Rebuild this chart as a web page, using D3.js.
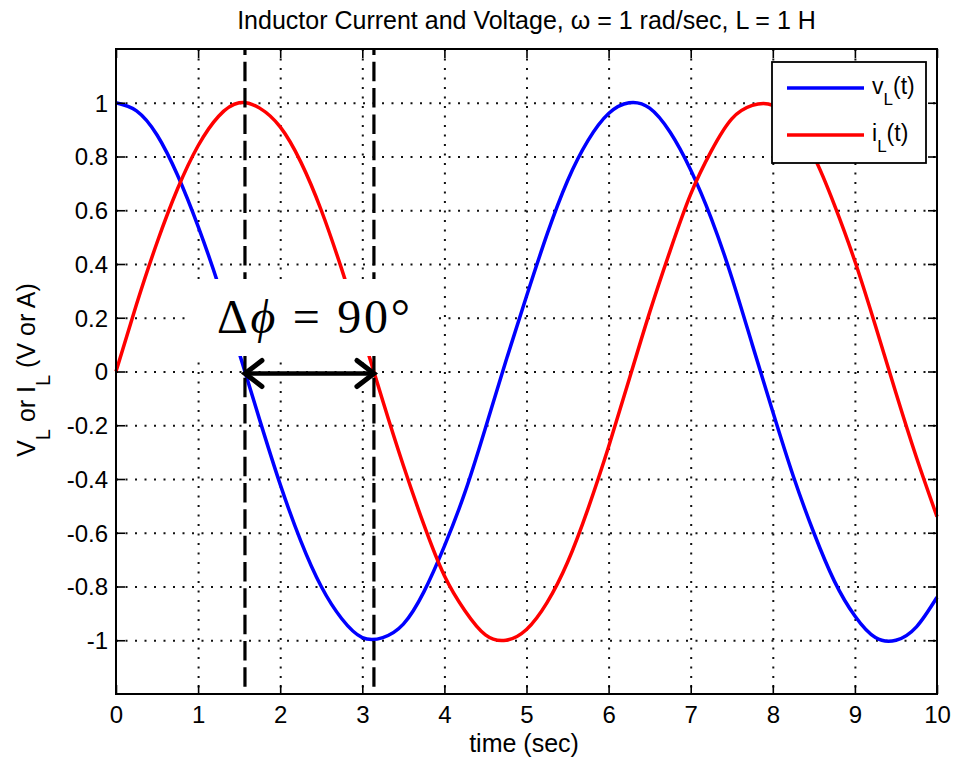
<!DOCTYPE html>
<html>
<head>
<meta charset="utf-8">
<script src="https://cdn.jsdelivr.net/npm/d3@7"></script>
<style>
  html, body { margin: 0; padding: 0; background: #fff; }
  svg { display: block; }
  text { font-family: "Liberation Sans", Arial, sans-serif; fill: #000; }
</style>
</head>
<body>
<svg id="chart" width="953" height="761"></svg>
<script>
// time samples (sec) and the two traces
var timeSec = [0, 0.25, 0.5, 0.75, 1, 1.25, 1.5, 1.75, 2, 2.25, 2.5, 2.75, 3, 3.25, 3.5, 3.75,
  4, 4.25, 4.5, 4.75, 5, 5.25, 5.5, 5.75, 6, 6.25, 6.5, 6.75, 7, 7.25, 7.5, 7.75,
  8, 8.25, 8.5, 8.75, 9, 9.25, 9.5, 9.75, 10];
var voltage = [1.00, 0.97, 0.88, 0.73, 0.54, 0.32, 0.07, -0.18, -0.42, -0.63, -0.80, -0.92, -0.99, -0.99, -0.94, -0.82,
  -0.65, -0.45, -0.21, 0.04, 0.28, 0.51, 0.71, 0.86, 0.96, 1.00, 0.98, 0.89, 0.75, 0.57, 0.35, 0.10,
  -0.15, -0.39, -0.60, -0.78, -0.91, -0.99, -1.00, -0.95, -0.84];
var current = [0.00, 0.25, 0.48, 0.68, 0.84, 0.95, 1.00, 0.98, 0.91, 0.78, 0.60, 0.38, 0.14, -0.11, -0.35, -0.57,
  -0.76, -0.89, -0.98, -1.00, -0.96, -0.86, -0.71, -0.51, -0.28, -0.03, 0.22, 0.45, 0.66, 0.82, 0.94, 0.99,
  0.99, 0.92, 0.80, 0.62, 0.41, 0.17, -0.08, -0.32, -0.54];

var xTicks = [0, 1, 2, 3, 4, 5, 6, 7, 8, 9, 10];
var xTickLabels = ["0", "1", "2", "3", "4", "5", "6", "7", "8", "9", "10"];
var yTicks = [-1, -0.8, -0.6, -0.4, -0.2, 0, 0.2, 0.4, 0.6, 0.8, 1];
var yTickLabels = ["-1", "-0.8", "-0.6", "-0.4", "-0.2", "0", "0.2", "0.4", "0.6", "0.8", "1"];

// the two dashed markers (zero crossings) and the phase label
var markTimes = [1.5708, 3.1416];
var phaseText = ["\u0394", "\u03D5", " = 90\u00B0"];

var margin = {top: 49, right: 16, bottom: 67, left: 116};
var W = 953, H = 761;
var w = W - margin.left - margin.right;
var h = H - margin.top - margin.bottom;

var svg = d3.select("#chart");
var g = svg.append("g").attr("transform", "translate(" + margin.left + "," + margin.top + ")");

var x = d3.scaleLinear().domain([0, 10]).range([0, w]);
var y = d3.scaleLinear().domain([-1.2, 1.2]).range([h, 0]);

// dotted grid
var gridX = g.append("g").attr("class", "grid")
  .call(d3.axisBottom(x).tickValues(xTicks.slice(1, -1)).tickSize(h).tickFormat(""));
var gridY = g.append("g").attr("class", "grid")
  .call(d3.axisLeft(y).tickValues(yTicks).tickSize(-w).tickFormat(""));
g.selectAll(".grid .domain").remove();
g.selectAll(".grid line")
  .attr("stroke", "#111").attr("stroke-width", 2)
  .attr("stroke-dasharray", "2,7.5");

// traces
var line = d3.line()
  .x(function(d) { return x(d[0]); })
  .y(function(d) { return y(d[1]); })
  .curve(d3.curveNatural);

g.append("path")
  .datum(timeSec.map(function(t, i) { return [t, voltage[i]]; }))
  .attr("d", line).attr("fill", "none")
  .attr("stroke", "#0000ff").attr("stroke-width", 3.5);
g.append("path")
  .datum(timeSec.map(function(t, i) { return [t, current[i]]; }))
  .attr("d", line).attr("fill", "none")
  .attr("stroke", "#ff0000").attr("stroke-width", 3.5);

// dashed markers
g.selectAll(".mark").data(markTimes).enter().append("line")
  .attr("class", "mark")
  .attr("x1", function(d) { return x(d); }).attr("x2", function(d) { return x(d); })
  .attr("y1", y(1.2)).attr("y2", y(-1.2))
  .attr("stroke", "#000").attr("stroke-width", 3.2)
  .attr("stroke-dasharray", "19.5,6.83").attr("stroke-dashoffset", 13.6);

// phase label on a white box
svg.append("rect")
  .attr("x", 190).attr("y", 279).attr("width", 247).attr("height", 77)
  .attr("fill", "#fff");
var ph = svg.append("text")
  .attr("x", 217).attr("y", 333)
  .attr("textLength", 193).attr("lengthAdjust", "spacing")
  .style("font-family", "'Liberation Serif', 'DejaVu Serif', serif")
  .style("font-size", "48px");
ph.append("tspan").text(phaseText[0]);
ph.append("tspan").style("font-style", "italic").text(phaseText[1]);
ph.append("tspan").text(phaseText[2]);

// double arrow between the markers
var ax0 = x(markTimes[0]), ax1 = x(markTimes[1]), ay = y(0) + 2;
g.append("line")
  .attr("x1", ax0 + 2).attr("x2", ax1 - 2).attr("y1", ay).attr("y2", ay)
  .attr("stroke", "#000").attr("stroke-width", 4.5);
g.append("path")
  .attr("d", "M" + (ax0 + 17) + "," + (ay - 13) + "L" + ax0 + "," + ay + "L" + (ax0 + 17) + "," + (ay + 13))
  .attr("fill", "none").attr("stroke", "#000").attr("stroke-width", 5)
  .attr("stroke-linecap", "round");
g.append("path")
  .attr("d", "M" + (ax1 - 17) + "," + (ay - 13) + "L" + ax1 + "," + ay + "L" + (ax1 - 17) + "," + (ay + 13))
  .attr("fill", "none").attr("stroke", "#000").attr("stroke-width", 5)
  .attr("stroke-linecap", "round");

// axes with inward ticks on all four sides
var xb = g.append("g").attr("transform", "translate(0," + h + ")")
  .call(d3.axisBottom(x).tickValues(xTicks).tickSizeInner(-9).tickSizeOuter(0)
    .tickFormat(function(d, i) { return xTickLabels[i]; }));
xb.selectAll("text").attr("y", 29).attr("dy", null).style("font-size", "24px");
var xt = g.append("g")
  .call(d3.axisTop(x).tickValues(xTicks).tickSizeInner(-9).tickSizeOuter(0).tickFormat(""));
var yl = g.append("g")
  .call(d3.axisLeft(y).tickValues(yTicks).tickSizeInner(-9).tickSizeOuter(0)
    .tickFormat(function(d, i) { return yTickLabels[i]; }));
yl.selectAll("text").attr("x", -8).attr("dy", "0.35em").style("font-size", "24px");
var yr = g.append("g").attr("transform", "translate(" + w + ",0)")
  .call(d3.axisRight(y).tickValues(yTicks).tickSizeInner(-9).tickSizeOuter(0).tickFormat(""));
[xb, xt, yl, yr].forEach(function(a) {
  a.select(".domain").remove();
  a.selectAll("line").attr("stroke", "#000").attr("stroke-width", 1.6);
});

g.append("rect")
  .attr("x", 0).attr("y", 0).attr("width", w).attr("height", h)
  .attr("fill", "none").attr("stroke", "#000").attr("stroke-width", 2);

// title and axis labels
svg.append("text")
  .attr("x", margin.left + w / 2).attr("y", 29)
  .attr("text-anchor", "middle").style("font-size", "25px")
  .text("Inductor Current and Voltage, \u03C9 = 1 rad/sec, L = 1 H");

svg.append("text")
  .attr("x", 524).attr("y", 752)
  .attr("text-anchor", "middle").style("font-size", "25px")
  .text("time (sec)");

var ylab = svg.append("text")
  .attr("transform", "translate(35,370) rotate(-90)")
  .attr("text-anchor", "middle").style("font-size", "25px");
ylab.append("tspan").text("V");
ylab.append("tspan").attr("dy", 15).style("font-size", "20px").text("L");
ylab.append("tspan").attr("dy", -15).text(" or I");
ylab.append("tspan").attr("dy", 15).style("font-size", "20px").text("L");
ylab.append("tspan").attr("dy", -15).text(" (V or A)");

// legend
var legend = svg.append("g").attr("transform", "translate(772,62)");
legend.append("rect")
  .attr("width", 154).attr("height", 101)
  .attr("fill", "#fff").attr("stroke", "#000").attr("stroke-width", 1.8);
var legendRows = [
  {name: "v", color: "#0000ff"},
  {name: "i", color: "#ff0000"}
];
legendRows.forEach(function(r, i) {
  var ly = 26 + i * 47;
  legend.append("line")
    .attr("x1", 15).attr("x2", 92).attr("y1", ly).attr("y2", ly)
    .attr("stroke", r.color).attr("stroke-width", 3.5);
  var lt = legend.append("text").attr("x", 100).attr("y", ly + 6).style("font-size", "23px");
  lt.append("tspan").text(r.name);
  lt.append("tspan").attr("dy", 11).style("font-size", "17px").text("L");
  lt.append("tspan").attr("dy", -11).text("(t)");
});
</script>
</body>
</html>
